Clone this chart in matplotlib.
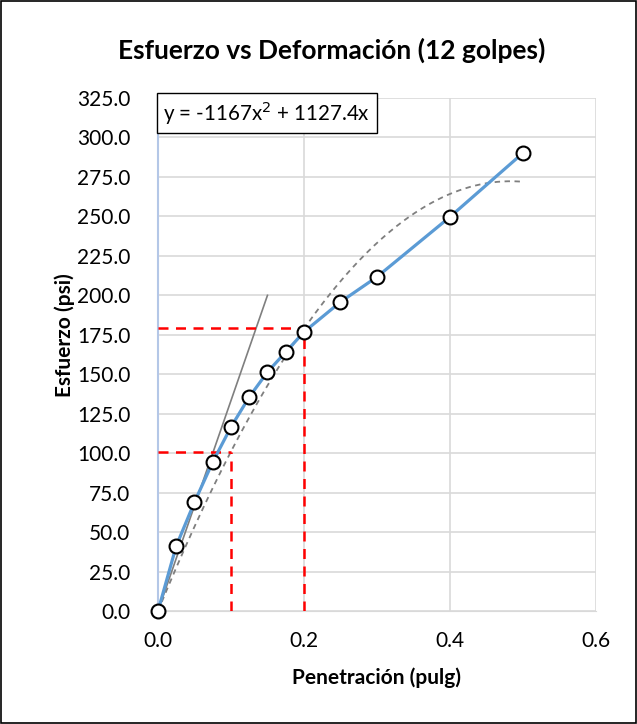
import numpy as np
import matplotlib.pyplot as plt
from matplotlib.patches import Rectangle

plt.rcParams['font.family'] = ['Lato', 'DejaVu Sans']

# measured data
penetracion = [0.0, 0.025, 0.05, 0.075, 0.1, 0.125, 0.15, 0.175, 0.2, 0.25, 0.3, 0.4, 0.5]
esfuerzo = [0.0, 41.2, 69.0, 94.4, 116.6, 135.6, 151.4, 164.1, 176.8, 195.8, 211.7, 249.7, 290.2]

# polynomial trend line coefficients
coef_a = -1167
coef_b = 1127.4

# tangent line through origin
tangente_x = [0.0, 0.15]
tangente_y = [0.0, 200.0]

# corrected values read at 0.1 and 0.2
corr_x = [0.1, 0.2]
corr_y = [101.0, 179.0]

fig = plt.figure(figsize=(6.37, 7.24), dpi=100)
ax = fig.add_axes([0.248, 0.156, 0.6876, 0.7086])

# outer border
fig.patches.append(Rectangle((0.0015, 0.0015), 0.997, 0.997, transform=fig.transFigure,
                             fill=False, edgecolor='black', linewidth=1.2))

xt = np.linspace(0, 0.5, 200)
ax.plot(xt, coef_a * xt**2 + coef_b * xt, color='#7f7f7f', linestyle=(0, (3, 2.5)),
        linewidth=1.3, zorder=3)
ax.plot(tangente_x, tangente_y, color='#7f7f7f', linewidth=1.2, zorder=3)

for cx, cy in zip(corr_x, corr_y):
    ax.plot([0, cx], [cy, cy], color='#ff0000', linestyle=(0, (4, 3)), linewidth=1.8, zorder=4)
    ax.plot([cx, cx], [0, cy], color='#ff0000', linestyle=(0, (4, 3)), linewidth=1.8, zorder=4)

ax.plot(penetracion, esfuerzo, color='#5B9BD5', linewidth=2.3, marker='o', markersize=10,
        markerfacecolor='white', markeredgecolor='black', markeredgewidth=1.5, zorder=5,
        clip_on=False)

ax.set_xlim(0, 0.6)
ax.set_ylim(0, 325)
ax.set_xticks([0, 0.2, 0.4, 0.6])
ax.set_xticklabels(['0.0', '0.2', '0.4', '0.6'])
ax.set_yticks(np.arange(0, 326, 25))
ax.set_yticklabels([f'{v:.1f}' for v in np.arange(0, 326, 25)])
ax.tick_params(axis='y', length=0, labelsize=15, pad=20)
ax.tick_params(axis='x', length=0, labelsize=15, pad=14)
ax.grid(True, color='#d9d9d9', linewidth=1.2)
ax.set_axisbelow(True)
for s in ['top', 'right']:
    ax.spines[s].set_visible(False)
ax.spines['bottom'].set_color('#d9d9d9')
ax.spines['left'].set_color('#b4c7e7')
ax.spines['left'].set_linewidth(1.5)

ax.set_xlabel('Penetración (pulg)', fontsize=15, fontweight='bold', labelpad=12)
ax.set_ylabel('Esfuerzo (psi)', fontsize=15, fontweight='bold')
ax.yaxis.set_label_coords(-0.19, 0.538)
fig.text(0.52, 0.931, 'Esfuerzo vs Deformación (12 golpes)', ha='center', va='center',
         fontsize=19, fontweight='bold')

ax.text(0.0075, 315.5, r'y = -1167x$^2$ + 1127.4x', fontsize=14.8, va='center', ha='left',
        bbox=dict(boxstyle='square,pad=0.3', facecolor='white', edgecolor='black', linewidth=1),
        zorder=6)

fig.savefig('out.png', dpi=100)
